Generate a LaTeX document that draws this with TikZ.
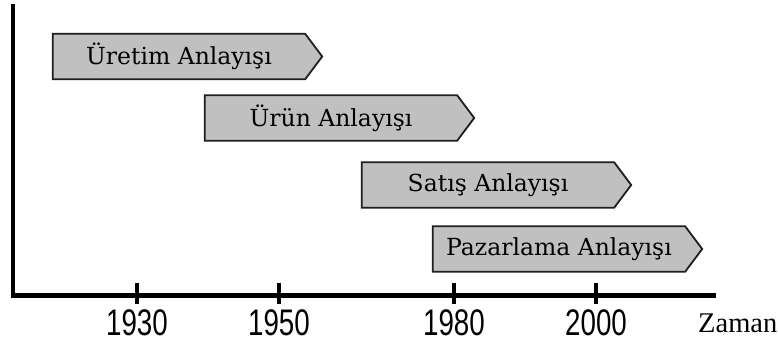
\documentclass[tikz,border=0pt]{standalone}
\usepackage{fontspec}
\setmainfont{Liberation Serif}
\newfontfamily\phasefont{DejaVu Serif}
\newfontfamily\yearfont{Liberation Sans}[FakeStretch=0.75]
\usetikzlibrary{backgrounds}
\definecolor{phasegray}{RGB}{192,192,192}
\definecolor{edgegray}{RGB}{30,30,30}

\begin{document}
\begin{tikzpicture}[x=1pt, y=-1pt,
  phase/.style={minimum width=252pt, minimum height=45pt, inner sep=0pt,
    font=\phasefont\fontsize{23.5}{26}\selectfont},
  phaseline/.style={draw=edgegray, line width=1.8pt, fill=phasegray,
    line join=miter},
  axis/.style={line width=4.5pt, line join=miter},
  tick/.style={line width=4pt},
  year/.style={anchor=base, inner sep=0pt,
    font=\yearfont\fontsize{37}{40}\selectfont},
]
\useasboundingbox (0,0) rectangle (778,342);

% phases
\node[phase] at (179, 56.5) (uretim) {Üretim Anlayışı};
\node[phase] at (331,118.0) (urun)   {Ürün Anlayışı};
\node[phase] at (488,185.0) (satis)  {Satış Anlayışı};
\node[phase] at (559,249.0) (pazar)  {Pazarlama Anlayışı};

% time axis
\coordinate (top)    at (13,  4);
\coordinate (origin) at (13,295.5);
\coordinate (end)    at (716,295.5);
\draw[axis] (top) -- (origin) -- (end);

\foreach \yr/\xx in {1930/137,1950/279,1980/454,2000/596}{
  \coordinate (t\yr) at (\xx,295.5);
  \draw[tick] ([yshift=13pt]t\yr) -- ([yshift=-8pt]t\yr);
  \node[year] at (\xx,335) (y\yr) {\yr};
}
\node[anchor=base west, inner sep=0pt,
  font=\fontsize{28.5}{31}\selectfont] at (698,332) (zaman) {Zaman};

\begin{pgfonlayer}{background}
\foreach \p in {uretim,urun,satis,pazar}
  \draw[phaseline] (\p.north west) -- (\p.north east) -- ([xshift=17pt]\p.east)
    -- (\p.south east) -- (\p.south west) -- cycle;
\end{pgfonlayer}
\end{tikzpicture}
\end{document}
